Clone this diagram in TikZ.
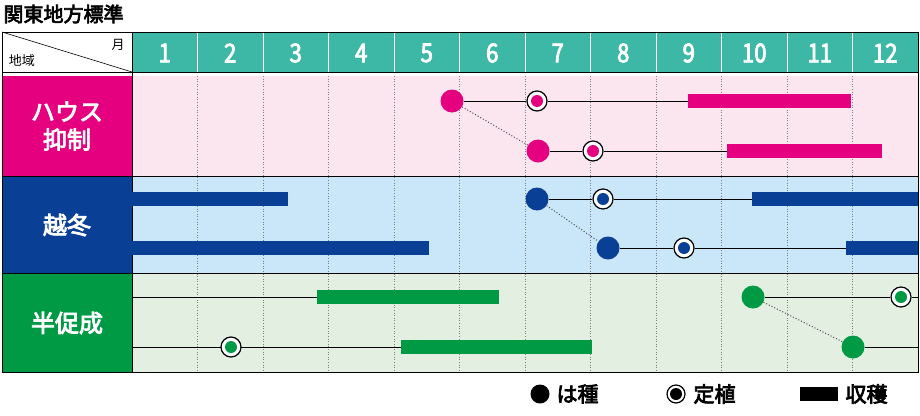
\documentclass[tikz,border=0pt]{standalone}
\usepackage{fontspec}
\setmainfont{Noto Sans CJK JP}
\newfontfamily\jpb{Noto Sans CJK JP}[FakeBold=3.5]
\newfontfamily\jpm{Noto Sans CJK JP}[FakeBold=3,FakeStretch=0.85]
\definecolor{teal1}{HTML}{3DB8A6}
\definecolor{pk}{HTML}{E4007F}
\definecolor{pkbg}{HTML}{FBE6EF}
\definecolor{bl}{HTML}{0A3F96}
\definecolor{blbg}{HTML}{C9E7F8}
\definecolor{gr}{HTML}{009944}
\definecolor{grbg}{HTML}{E2EFE1}
\tikzset{
 sow/.style={circle,fill=#1,minimum size=23pt,inner sep=0pt},
 tp/.style={circle,draw=black,line width=1.2pt,fill=white,minimum size=20pt,inner sep=0pt,path picture={\fill[#1] (path picture bounding box.center) circle (6pt);}},
 bar/.style={line width=14pt,#1},
 ln/.style={line width=1pt,black},
 dot/.style={dotted,line width=1pt,black!70},
 lab/.style={text=white,font=\jpb\fontsize{24}{28}\selectfont,align=center},
 mon/.style={text=white,font=\jpm\fontsize{26}{26}\selectfont}
}
\begin{document}
\begin{tikzpicture}[x=1pt,y=-1pt]
\useasboundingbox (0,0) rectangle (920,415);
\node[anchor=west,font=\jpb\fontsize{20}{20}\selectfont] (title) at (0,14) {関東地方標準};
\fill[teal1] (132,32) rectangle (918,72);
\fill[white] (2,32) rectangle (132,72);
\fill[pkbg] (132,76) rectangle (918,176);
\fill[blbg] (132,176) rectangle (918,273);
\fill[grbg] (132,273) rectangle (918,372);
\fill[pk] (2,76) rectangle (132,176);
\fill[bl] (2,176) rectangle (132,273);
\fill[gr] (2,273) rectangle (132,372);
\foreach \i in {1,...,11}{
 \draw[dotted,gray,line width=0.6pt] ({132+65.5*\i},76) -- ({132+65.5*\i},372);
 \draw[white,line width=0.6pt] ({132+65.5*\i},32) -- ({132+65.5*\i},72);}
\foreach \i in {1,...,12}{\node[mon] (m\i) at ({132+65.5*(\i-0.5)},53) {\i};}
\draw[black,line width=0.8pt] (2,32) rectangle (918,372);
\draw[black,line width=0.8pt] (2,72) -- (918,72);
\draw[black,line width=0.8pt] (2,176) -- (918,176) (2,273) -- (918,273) (132,32) -- (132,372);
\draw[black,line width=0.6pt] (2,32) -- (132,72);
\node[font=\fontsize{13}{13}\selectfont] (tm) at (118,45) {月};
\node[font=\fontsize{13}{13}\selectfont] (tr) at (22,61) {地域};
\node[lab] (h) at (67,126) {ハウス\\抑制};
\node[lab] (e) at (67,225) {越冬};
\node[lab] (s) at (67,323) {半促成};
\coordinate (a1) at (688,101); \coordinate (a2) at (851,101);
\coordinate (b1) at (727,151); \coordinate (b2) at (882,151);
\draw[bar=pk] (a1) -- (a2); \draw[bar=pk] (b1) -- (b2);
\node[sow=pk] (s1) at (452,101) {}; \node[tp=pk] (t1) at (537,101) {};
\node[sow=pk] (s2) at (538,151) {}; \node[tp=pk] (t2) at (593,151) {};
\draw[ln] (s1) -- (t1) -- (a1); \draw[ln] (s2) -- (t2) -- (b1);
\draw[dot] (s1) -- (s2);
\coordinate (c0) at (132,199); \coordinate (c1) at (288,199);
\coordinate (c2) at (752,199); \coordinate (c3) at (918,199);
\coordinate (d0) at (132,248); \coordinate (d1) at (429,248);
\coordinate (d2) at (846,248); \coordinate (d3) at (918,248);
\draw[bar=bl] (c0) -- (c1); \draw[bar=bl] (c2) -- (c3);
\draw[bar=bl] (d0) -- (d1); \draw[bar=bl] (d2) -- (d3);
\node[sow=bl] (s3) at (537,199) {}; \node[tp=bl] (t3) at (603,199) {};
\node[sow=bl] (s4) at (608,248) {}; \node[tp=bl] (t4) at (684,248) {};
\draw[ln] (s3) -- (t3) -- (c2); \draw[ln] (s4) -- (t4) -- (d2);
\draw[dot] (s3) -- (s4);
\coordinate (e0) at (132,297); \coordinate (e1) at (317,297); \coordinate (e2) at (499,297); \coordinate (e3) at (918,297);
\coordinate (f0) at (132,347); \coordinate (f1) at (401,347); \coordinate (f2) at (592,347); \coordinate (f3) at (918,347);
\draw[ln] (e0) -- (e1); \draw[bar=gr] (e1) -- (e2);
\draw[ln] (f0) -- (f1); \draw[bar=gr] (f1) -- (f2);
\node[sow=gr] (s5) at (753,297) {}; \node[tp=gr] (t5) at (901,297) {};
\node[tp=gr] (t6) at (231,347) {}; \node[sow=gr] (s6) at (853,347) {};
\draw[ln] (s5) -- (t5) -- (e3); \draw[ln] (s6) -- (f3);
\draw[dot] (s5) -- (s6);
\node[sow=black,minimum size=19pt] (ls) at (540,394) {};
\node[anchor=west,font=\jpb\fontsize{21}{21}\selectfont] (lt1) at (553,394) {は種};
\node[tp=black,minimum size=18pt] (lp) at (676,394) {};
\node[anchor=west,font=\jpb\fontsize{21}{21}\selectfont] (lt2) at (690,394) {定植};
\coordinate (lb1) at (800,394); \coordinate (lb2) at (838,394);
\draw[bar=black] (lb1) -- (lb2);
\node[anchor=west,font=\jpb\fontsize{21}{21}\selectfont] (lt3) at (842,394) {収穫};
\end{tikzpicture}
\end{document}
